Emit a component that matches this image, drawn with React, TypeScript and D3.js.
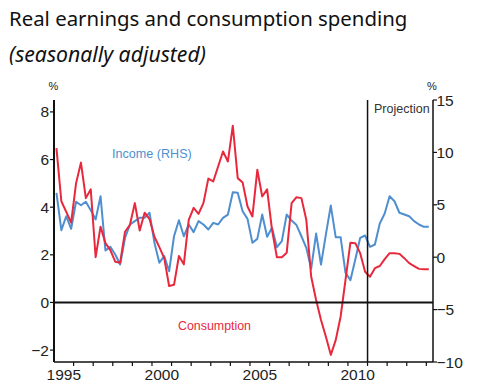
import React from "react";
import * as d3 from "d3";

// quarterly, 1995 Q1 to 2014 Q1
const startYear = 1995;
const consumption = [
  6.48, 4.25, 3.8, 3.35, 5.0, 5.87, 4.38, 4.75, 1.9, 3.18, 2.49, 2.2, 1.71, 1.67, 2.97, 3.26,
  4.17, 3.02, 3.77, 3.5, 2.76, 2.32, 1.86, 0.69, 0.74, 1.95, 1.6, 3.47, 3.97, 3.72, 4.17, 5.2,
  5.08, 5.71, 6.34, 5.92, 7.42, 5.22, 5.04, 4.03, 3.61, 5.57, 4.45, 4.75, 3.05, 1.9, 1.9, 2.09,
  4.17, 4.42, 4.38, 3.47, 1.08, 0.1, -0.74, -1.44, -2.2, -1.58, -0.6, 0.95, 2.51, 2.49, 2.07, 1.29,
  1.08, 1.44, 1.53, 1.82, 2.07, 2.07, 2.04, 1.86, 1.65, 1.53, 1.41, 1.39, 1.39,
];
const income = [
  6.14, 2.58, 3.91, 2.71, 5.29, 4.96, 5.29, 4.49, 3.6, 5.82, 0.64, 0.99, 0.26, -0.7, 1.85, 3.12,
  3.44, 3.76, 3.76, 4.24, 1.37, -0.53, 0.1, -1.34, 2.0, 3.53, 2.0, 3.12, 2.39, 3.44, 3.12, 2.64,
  3.28, 3.12, 3.76, 4.07, 6.2, 6.14, 4.39, 3.66, 1.37, 1.75, 4.07, 1.95, 2.8, 0.95, 1.53, 4.07,
  3.5, 3.07, 2.0, 0.9, -1.1, 2.26, -0.7, 2.17, 4.93, 1.91, 1.91, -1.49, -2.19, -0.22, 1.85, 2.07,
  0.99, 1.21, 3.22, 4.17, 5.82, 5.34, 4.24, 4.07, 3.91, 3.44, 3.12, 2.9, 2.9,
];
const yearLabels = [1995, 2000, 2005, 2010];
const leftTicks = [-2, 0, 2, 4, 6, 8];
const rightTicks = [-10, -5, 0, 5, 10, 15];
const projectionStart = 2011;

const RED = "#e8283c";
const BLUE = "#4f8fd0";

export default function App() {
  const x0 = 54, x1 = 433, y0 = 100, y1 = 362;
  const x = d3.scaleLinear().domain([1995, 2014.34]).range([x0, x1]);
  const yL = d3.scaleLinear().domain([-2.5, 8.5]).range([y1, y0]);
  const yR = d3.scaleLinear().domain([-10, 15]).range([y1, y0]);
  const t = (i: number) => startYear + (i + 0.5) / 4;

  const redLine = d3.line<number>().x((_, i) => x(t(i))).y((d) => yL(d));
  const blueLine = d3.line<number>().x((_, i) => x(t(i))).y((d) => yR(d));
  const yearTicks = d3.range(1996, 2015);
  const tickFont = "'Liberation Sans', Arial, sans-serif";
  const fmt = (v: number) => (v < 0 ? "\u2212" + Math.abs(v) : String(v));

  return (
    <div style={{ position: "absolute", left: 0, top: 0 }}>
      <svg width={500} height={388} style={{ display: "block", background: "#fff" }}>
        <text x={9} y={26} fontFamily="'Noto Sans', sans-serif" fontSize={20.4} fill="#111">
          Real earnings and consumption spending
        </text>
        <text x={9} y={62} fontFamily="'Noto Sans', sans-serif" fontSize={21.2} fontStyle="italic" fill="#111">
          (seasonally adjusted)
        </text>

        <text x={53.5} y={90} textAnchor="middle" fontFamily={tickFont} fontSize={11} fill="#222">%</text>
        <text x={432} y={90} textAnchor="middle" fontFamily={tickFont} fontSize={11} fill="#222">%</text>

        {/* series */}
        <path d={blueLine(income) ?? ""} fill="none" stroke={BLUE} strokeWidth={2} strokeLinejoin="round" />
        <path d={redLine(consumption) ?? ""} fill="none" stroke={RED} strokeWidth={2} strokeLinejoin="round" />

        {/* zero line and frame */}
        <line x1={x0} x2={x1} y1={yL(0)} y2={yL(0)} stroke="#111" strokeWidth={2} />
        <line x1={x0} x2={x1} y1={y1} y2={y1} stroke="#111" strokeWidth={1.5} />
        <line x1={x0} x2={x0} y1={y0} y2={y1} stroke="#111" strokeWidth={2} />
        <line x1={x1} x2={x1} y1={y0} y2={y1} stroke="#111" strokeWidth={1.5} />
        <line x1={x(projectionStart)} x2={x(projectionStart)} y1={y0} y2={y1} stroke="#111" strokeWidth={1.5} />

        {/* left axis */}
        {leftTicks.map((v) => (
          <g key={"l" + v}>
            <line x1={x0 - 4} x2={x0} y1={yL(v)} y2={yL(v)} stroke="#111" strokeWidth={1.2} />
            <text x={x0 - 5} y={yL(v) + 5.5} textAnchor="end" fontFamily={tickFont} fontSize={15.5} fill="#222">
              {fmt(v)}
            </text>
          </g>
        ))}

        {/* right axis */}
        {rightTicks.map((v) => (
          <g key={"r" + v}>
            <line x1={x1} x2={x1 + 4} y1={yR(v)} y2={yR(v)} stroke="#111" strokeWidth={1.2} />
            <text x={x1 + 3.5} y={yR(v) + 5.5} fontFamily={tickFont} fontSize={15.5} fill="#222">
              {fmt(v)}
            </text>
          </g>
        ))}

        {/* x axis */}
        {yearTicks.map((yr) => (
          <line key={yr} x1={x(yr)} x2={x(yr)} y1={y1} y2={y1 + 4} stroke="#111" strokeWidth={1.2} />
        ))}
        {yearLabels.map((yr) => (
          <text key={"y" + yr} x={x(yr + 0.5)} y={380} textAnchor="middle" fontFamily={tickFont} fontSize={15.5} fill="#222">
            {yr}
          </text>
        ))}

        <text x={374} y={113} fontFamily={tickFont} fontSize={12.5} fill="#333">Projection</text>
        <text x={112} y={158} fontFamily={tickFont} fontSize={12.6} fill={BLUE}>Income (RHS)</text>
        <text x={178} y={330} fontFamily={tickFont} fontSize={12.4} fill={RED}>Consumption</text>
      </svg>
    </div>
  );
}
